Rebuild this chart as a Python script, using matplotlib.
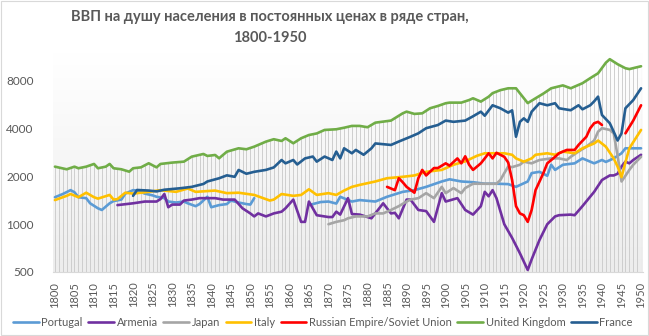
import numpy as np
import matplotlib
matplotlib.use("Agg")
import matplotlib.pyplot as plt
from matplotlib.patches import Polygon, Rectangle
from matplotlib.ticker import FixedLocator, NullLocator

plt.rcParams['font.family'] = ['Lato', 'DejaVu Sans']

# === Data (GDP per capita, log scale)
uk_years = [1800, 1803, 1805, 1806, 1808, 1810, 1811, 1813, 1814, 1815, 1817, 1819, 1820,
            1822, 1824, 1826, 1827, 1830, 1833, 1835, 1838, 1839, 1841, 1842, 1844, 1847,
            1849, 1851, 1854, 1856, 1858, 1859, 1861, 1863, 1865, 1867, 1869, 1872, 1874,
            1876, 1878, 1880, 1882, 1886, 1889, 1890, 1892, 1894, 1896, 1898, 1900, 1901,
            1904, 1906, 1907, 1909, 1911, 1912, 1914, 1916, 1918, 1919, 1921, 1923, 1925,
            1927, 1930, 1932, 1935, 1937, 1939, 1941, 1942, 1944, 1946, 1947, 1950]
uk_vals = [2306, 2220, 2306, 2253, 2306, 2398, 2253, 2306, 2398, 2253, 2220, 2144, 2253,
           2283, 2422, 2283, 2398, 2446, 2480, 2666, 2772, 2694, 2732, 2604, 2866, 3010,
           2968, 3083, 3316, 3434, 3348, 3482, 3238, 3482, 3650, 3734, 3928, 3967, 4057,
           4165, 4165, 4086, 4367, 4500, 5000, 5124, 4958, 5000, 5383, 5563, 5788, 5840,
           5840, 6063, 6221, 5926, 6366, 6700, 7000, 7190, 7190, 6690, 5800, 6220, 6660,
           7190, 7500, 7190, 7740, 8330, 8940, 10430, 10970, 10200, 9620, 9500, 9900]

fr_years = [1820, 1821, 1824, 1826, 1828, 1832, 1835, 1838, 1839, 1842, 1844, 1846, 1847,
            1849, 1851, 1854, 1856, 1858, 1859, 1861, 1862, 1864, 1866, 1867, 1869, 1871,
            1872, 1873, 1874, 1876, 1877, 1879, 1881, 1882, 1886, 1888, 1891, 1893, 1895,
            1898, 1900, 1902, 1905, 1907, 1909, 1910, 1912, 1914, 1916, 1917, 1918, 1919,
            1920, 1921, 1922, 1924, 1926, 1928, 1929, 1932, 1934, 1935, 1937, 1938, 1939,
            1940, 1942, 1943, 1944, 1945, 1946, 1948, 1950]
fr_vals = [1510, 1644, 1630, 1610, 1650, 1685, 1720, 1794, 1860, 1948, 2033, 1990, 2198,
           2080, 2140, 2200, 2280, 2540, 2420, 2540, 2380, 2600, 2670, 2480, 2670, 2540,
           2870, 2600, 3010, 2800, 2940, 2740, 3010, 3230, 3160, 3320, 3560, 3740, 4030,
           4220, 4500, 4420, 4500, 4790, 5120, 4830, 5620, 5380, 5050, 5220, 3560, 4420,
           4650, 4420, 5120, 5790, 5620, 5790, 5380, 5230, 5620, 5300, 5620, 5950, 6370,
           4880, 4330, 3830, 3370, 3740, 5380, 6060, 7190]

it_years = [1800, 1803, 1804, 1806, 1808, 1810, 1811, 1814, 1815, 1816, 1818, 1820, 1824,
            1827, 1831, 1834, 1836, 1841, 1844, 1847, 1851, 1855, 1856, 1858, 1861, 1863,
            1865, 1867, 1870, 1872, 1874, 1876, 1878, 1882, 1885, 1889, 1892, 1895, 1899,
            1902, 1905, 1908, 1910, 1912, 1915, 1917, 1918, 1920, 1922, 1923, 1926, 1928,
            1930, 1933, 1935, 1938, 1939, 1941, 1943, 1944, 1945, 1946, 1947, 1950]
it_vals = [1420, 1510, 1551, 1480, 1580, 1480, 1450, 1530, 1430, 1440, 1580, 1560, 1600,
           1640, 1600, 1680, 1600, 1630, 1570, 1580, 1530, 1410, 1430, 1550, 1510, 1530,
           1660, 1530, 1570, 1530, 1630, 1720, 1770, 1860, 1950, 1990, 2030, 2140, 2200,
           2370, 2490, 2700, 2800, 2800, 2800, 2740, 2600, 2480, 2600, 2740, 2800, 2740,
           2870, 2800, 3010, 3230, 3370, 3080, 2600, 2310, 1980, 2450, 3010, 3930]

pt_years = [1800, 1802, 1804, 1805, 1806, 1808, 1809, 1811, 1812, 1814, 1815, 1817, 1818,
            1820, 1821, 1823, 1825, 1826, 1828, 1829, 1831, 1833, 1834, 1836, 1837, 1839,
            1840, 1842, 1844, 1845, 1847, 1849, 1850, 1851, 1858,
            1865, 1868, 1870, 1872, 1873, 1876, 1878, 1882, 1885, 1889, 1892, 1895, 1899,
            1901, 1904, 1907, 1910, 1913, 1916, 1918, 1921, 1922, 1924, 1926, 1927, 1928,
            1930, 1933, 1935, 1938, 1940, 1941, 1943, 1945, 1946, 1950]
pt_vals = [1480, 1550, 1640, 1590, 1480, 1460, 1355, 1260, 1230, 1355, 1400, 1430, 1560,
           1640, 1630, 1560, 1520, 1490, 1460, 1390, 1370, 1390, 1355, 1300, 1340, 1490,
           1280, 1320, 1340, 1410, 1370, 1340, 1330, 1460, np.nan,
           1320, 1380, 1390, 1350, 1490, 1390, 1420, 1390, 1490, 1600, 1640, 1720, 1860,
           1920, 1860, 1840, 1800, 1800, 1790, 1720, 1860, 2100, 2140, 2020, 2370, 2200,
           2370, 2420, 2600, 2420, 2540, 2470, 2600, 2800, 3010, 3010]

am_years = [1816, 1820, 1823, 1826, 1827, 1828, 1829, 1830, 1832, 1833, 1835, 1837, 1841,
            1843, 1846, 1848, 1850, 1851, 1852, 1854, 1856, 1858, 1859, 1861, 1863, 1864,
            1865, 1867, 1870, 1871, 1872, 1873, 1875, 1876, 1878, 1881, 1884, 1886, 1887,
            1888, 1890, 1891, 1893, 1895, 1897, 1899, 1900, 1903, 1905, 1907, 1909, 1910,
            1911, 1912, 1913, 1915, 1917, 1919, 1921, 1922, 1924, 1926, 1928, 1929, 1932,
            1933, 1935, 1938, 1940, 1942, 1943, 1944, 1945, 1946, 1947, 1948, 1950]
am_vals = [1320, 1355, 1390, 1390, 1440, 1550, 1280, 1330, 1330, 1410, 1430, 1460, 1460,
           1430, 1430, 1260, 1170, 1120, 1170, 1120, 1170, 1200, 1260, 1430, 1035, 1035,
           1390, 1140, 1110, 1110, 1200, 1150, 1460, 1160, 1150, 1090, 1355, 1170, 1180,
           1090, 1430, 1430, 1230, 1210, 1035, 1570, 1390, 1460, 1230, 1150, 1300, 1600,
           1500, 1640, 1460, 1000, 820, 656, 515, 600, 795, 1000, 1120, 1140, 1150,
           1140, 1300, 1600, 1900, 2030, 2030, 2080, 2310, 2480, 2420, 2540, 2740]

jp_years = [1870, 1872, 1874, 1875, 1877, 1880, 1882, 1884, 1886, 1888, 1890, 1891, 1893,
            1895, 1897, 1899, 1900, 1902, 1904, 1905, 1907, 1909, 1911, 1913, 1914, 1915,
            1916, 1917, 1919, 1920, 1922, 1924, 1927, 1929, 1931, 1932, 1934, 1936, 1938,
            1939, 1940, 1942, 1943, 1944, 1945, 1946, 1947, 1948, 1950]
jp_vals = [1000, 1035, 1060, 1090, 1120, 1120, 1170, 1170, 1230, 1300, 1390, 1430, 1460,
           1570, 1460, 1720, 1570, 1690, 1570, 1690, 1800, 1800, 1800, 1800, 1900, 2100,
           2310, 2290, 2370, 2480, 2420, 2540, 2600, 2600, 2540, 2660, 2870, 3080, 3370,
           3830, 4030, 3930, 3740, 2700, 1860, 2020, 2200, 2370, 2660]

ru_years = [1885, 1887, 1888, 1889, 1890, 1892, 1893, 1894, 1895, 1897, 1898, 1900, 1901,
            1903, 1904, 1905, 1906, 1907, 1909, 1910, 1911, 1912, 1913, 1915, 1916, 1917,
            1918, 1919, 1920, 1921, 1922, 1923, 1925, 1926, 1928, 1929, 1931, 1933, 1934,
            1936, 1937, 1938, 1939, 1940, 1943, 1946, 1948, 1950]
ru_vals = [1720, 1640, 1950, 1840, 1720, 1580, 1950, 2200, 2030, 2260, 2260, 2420, 2340,
           2600, 2420, 2680, 2370, 2200, 2420, 2600, 2800, 2600, 2820, 2660, 2450, 1900,
           1300, 1170, 1140, 1035, 1230, 1640, 2100, 2420, 2660, 2800, 2940, 2940, 3160,
           3560, 4030, 4330, 4420, 4220, np.nan, 3740, 4500, 5620]

series = [
    ("Portugal", pt_years, pt_vals, "#5B9BD5"),
    ("Armenia", am_years, am_vals, "#7030A0"),
    ("Japan", jp_years, jp_vals, "#A5A5A5"),
    ("Italy", it_years, it_vals, "#FFC000"),
    ("Russian Empire/Soviet Union", ru_years, ru_vals, "#FF0000"),
    ("United Kingdom", uk_years, uk_vals, "#70AD47"),
    ("France", fr_years, fr_vals, "#255E91"),
]
y_ticks = [500, 1000, 2000, 4000, 8000]
x_ticks = list(range(1800, 1951, 5))

# === Figure
fig = plt.figure(figsize=(6.49, 3.36), dpi=100)
ax = fig.add_axes([53 / 649, (336 - 272) / 336, 590 / 649, 219 / 336])
ax.set_yscale('log')
ax.set_xlim(1799.5, 1950.5)
ax.set_ylim(500, 12000)

# light gradient background of the plot area
grad = np.linspace(1, 0, 256).reshape(-1, 1)
ax.imshow(grad, extent=[0, 1, 0, 1], transform=ax.transAxes, aspect='auto',
          cmap=matplotlib.colors.LinearSegmentedColormap.from_list('g', ['#EDEDED', '#FFFFFF']),
          zorder=0, interpolation='bilinear')

# drop lines: one per year, cut at the top series (UK)
drops = ax.vlines(np.arange(1800, 1951), 500, 20000, colors='#C8C8C8', linewidth=0.6, zorder=1)
clip = Polygon(list(zip(uk_years, uk_vals)) + [(1950, 500), (1800, 500)],
               closed=True, transform=ax.transData, facecolor='none', edgecolor='none')
ax.add_patch(clip)
drops.set_clip_path(clip)

for name, yrs, vals, col in series:
    ax.plot(yrs, vals, color=col, linewidth=1.9, label=name, zorder=3,
            solid_joinstyle='round', solid_capstyle='round')

ax.yaxis.set_major_locator(FixedLocator(y_ticks))
ax.yaxis.set_minor_locator(NullLocator())
ax.set_yticklabels([str(v) for v in y_ticks])
ax.set_xticks(x_ticks)
ax.set_xticklabels([str(v) for v in x_ticks], rotation=90)
ax.tick_params(axis='y', length=0, pad=14, labelsize=8.5, labelcolor='#595959')
ax.tick_params(axis='x', length=0, pad=7, labelsize=8, labelcolor='#595959')

for s in ['top', 'right', 'left']:
    ax.spines[s].set_visible(False)
ax.spines['bottom'].set_color('#D9D9D9')
ax.spines['bottom'].set_linewidth(0.8)

fig.text(270 / 649, 1 - 17 / 336, "ВВП на душу населения в постоянных ценах в ряде стран,",
         ha='center', va='center', fontsize=10.5, fontweight='bold', color='#595959')
fig.text(270 / 649, 1 - 38 / 336, "1800-1950",
         ha='center', va='center', fontsize=10.5, fontweight='bold', color='#595959')

fig.legend(loc='center', bbox_to_anchor=(323 / 649, 14 / 336), ncol=7, frameon=False,
           fontsize=8, labelcolor='#595959', handlelength=2.3, handletextpad=0.25,
           columnspacing=0.5, borderaxespad=0)

fig.patches.append(Rectangle((0.001, 0.002), 0.997, 0.995, transform=fig.transFigure,
                             fill=False, edgecolor='#D9D9D9', linewidth=0.8))

fig.savefig("out.png", dpi=100)
